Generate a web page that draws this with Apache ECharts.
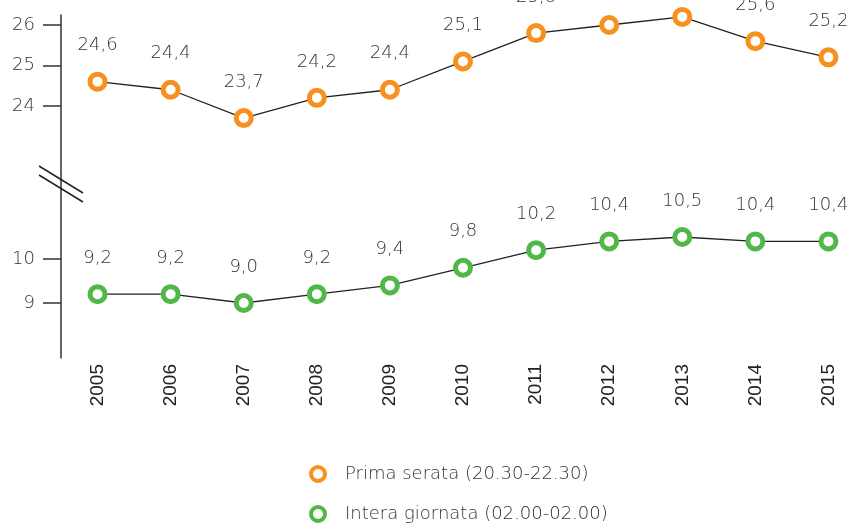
<!DOCTYPE html>
<html>
<head>
<meta charset="utf-8">
<script src="https://cdn.jsdelivr.net/npm/echarts@6/dist/echarts.min.js"></script>
<style>html,body{margin:0;padding:0;background:#fff}#c{width:865px;height:528px}</style>
</head>
<body>
<div id="c"></div>
<script>
const years = ['2005','2006','2007','2008','2009','2010','2011','2012','2013','2014','2015'];
const primaSerata = [24.6, 24.4, 23.7, 24.2, 24.4, 25.1, 25.8, 26.0, 26.2, 25.6, 25.2];
const interaGiornata = [9.2, 9.2, 9.0, 9.2, 9.4, 9.8, 10.2, 10.4, 10.5, 10.4, 10.4];
const topTicks = [24, 25, 26];
const bottomTicks = [9, 10];
const nameA = 'Prima serata (20.30-22.30)';
const nameB = 'Intera giornata (02.00-02.00)';

const ORANGE = '#F7901E';
const GREEN = '#50B848';
const TXT = '#333';
const FONT = 'DejaVu Sans';
const FW = 200;

const chart = echarts.init(document.getElementById('c'));
const fmt = v => v.toFixed(1).replace('.', ',');

function yAxis(gi, min, max, ticks) {
  return {
    type: 'value', gridIndex: gi, min: min, max: max,
    splitLine: {show: false},
    axisLine: {show: true, lineStyle: {color: '#333', width: 1.5}},
    axisTick: {show: true, length: 18, customValues: ticks, lineStyle: {color: '#333', width: 1.5}},
    axisLabel: {customValues: ticks, color: TXT, fontSize: 18, fontFamily: FONT, fontWeight: FW, margin: 26}
  };
}
function xAxis(gi, showLabels) {
  return {
    type: 'category', gridIndex: gi, data: years, boundaryGap: true,
    axisLine: {show: false}, axisTick: {show: false}, splitLine: {show: false},
    axisLabel: {show: showLabels, rotate: 90, color: '#222', fontSize: 19, fontFamily: 'Liberation Sans', margin: 6}
  };
}
function series(name, data, gi, color) {
  return {
    name: name, type: 'line', xAxisIndex: gi, yAxisIndex: gi, data: data,
    symbol: 'circle', symbolSize: 15,
    itemStyle: {color: '#fff', borderColor: color, borderWidth: 5},
    lineStyle: {color: '#222', width: 1.3},
    label: {show: true, position: 'top', distance: 17, color: TXT, fontSize: 18, fontFamily: FONT, fontWeight: FW, formatter: p => fmt(p.value)},
    z: 3
  };
}
function legend(name, color, top) {
  return {
    left: 304, top: top, itemWidth: 14, itemHeight: 14, itemGap: 0,
    icon: 'circle',
    itemStyle: {color: '#fff', borderColor: color, borderWidth: 4},
    textStyle: {color: TXT, fontSize: 18, fontFamily: FONT, fontWeight: FW, padding: [0, 0, 0, 15]},
    data: [name]
  };
}

chart.setOption({
  animation: false,
  grid: [
    {left: 61, top: 15, width: 818, height: 165},
    {left: 61, top: 180, width: 818, height: 178}
  ],
  xAxis: [xAxis(0, false), xAxis(1, true)],
  yAxis: [yAxis(0, 22.17, 26.247, topTicks), yAxis(1, 7.75, 11.795, bottomTicks)],
  legend: [legend(nameA, ORANGE, 460), legend(nameB, GREEN, 500)],
  graphic: [
    {type: 'line', shape: {x1: 39, y1: 166, x2: 83, y2: 193}, style: {stroke: '#222', lineWidth: 1.5}, z: 10},
    {type: 'line', shape: {x1: 39, y1: 175, x2: 83, y2: 202}, style: {stroke: '#222', lineWidth: 1.5}, z: 10}
  ],
  series: [series(nameA, primaSerata, 0, ORANGE), series(nameB, interaGiornata, 1, GREEN)]
});
</script>
</body>
</html>
